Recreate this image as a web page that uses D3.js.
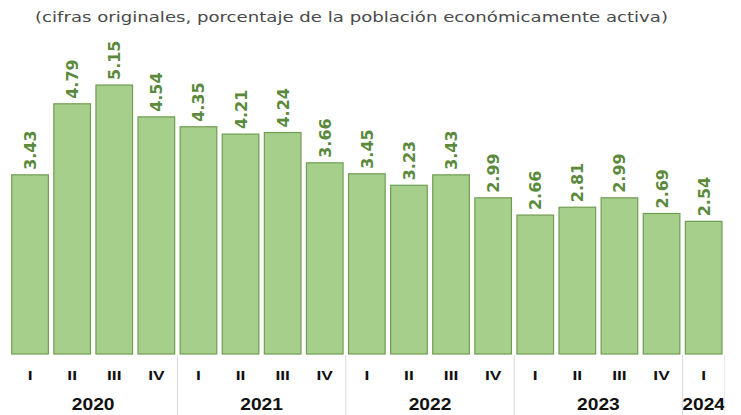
<!DOCTYPE html>
<html><head><meta charset="utf-8">
<script src="https://cdn.jsdelivr.net/npm/d3@7"></script>
<style>body{margin:0;background:#fff}</style>
</head><body>
<svg id="c" width="741" height="415"></svg>
<script>
const title = "(cifras originales, porcentaje de la población económicamente activa)";
const quarters = ["I","II","III","IV","I","II","III","IV","I","II","III","IV","I","II","III","IV","I"];
const years = ["2020","2020","2020","2020","2021","2021","2021","2021","2022","2022","2022","2022","2023","2023","2023","2023","2024"];
const values = [3.43,4.79,5.15,4.54,4.35,4.21,4.24,3.66,3.45,3.23,3.43,2.99,2.66,2.81,2.99,2.69,2.54];

const svg = d3.select("#c");
const ids = values.map((d,i)=>i);
const x = d3.scaleBand().domain(ids).range([9, 9+17*42.1]).paddingInner(0.13).paddingOuter(0.065);
const y = d3.scaleLinear().domain([0, 5.15]).range([354, 85]);

svg.append("text").attr("x", 351.5).attr("y", 22).attr("text-anchor","middle")
  .attr("font-family","'DejaVu Sans', sans-serif").attr("font-weight","normal").attr("font-size",14.5).attr("fill","#4a4a4a")
  .attr("textLength", 633).attr("lengthAdjust","spacingAndGlyphs").text(title);

svg.selectAll("rect.bar").data(values).join("rect").attr("class","bar")
  .attr("x",(d,i)=>x(i)).attr("width",x.bandwidth())
  .attr("y",d=>y(d)).attr("height",d=>y(0)-y(d))
  .attr("fill","#a6cf8b").attr("stroke","#6f9d52").attr("stroke-width",1.2);

svg.selectAll("text.val").data(values).join("text").attr("class","val")
  .attr("transform",(d,i)=>`translate(${x(i)+x.bandwidth()/2+6},${y(d)-5}) rotate(-90)`)
  .attr("font-family","'DejaVu Sans', sans-serif").attr("font-weight","bold").attr("font-size",16)
  .attr("fill","#5b8a3c").text(d=>d.toFixed(2));

svg.selectAll("text.q").data(quarters).join("text").attr("class","q")
  .attr("transform",(d,i)=>`translate(${x(i)+x.bandwidth()/2},380) scale(1.45,1)`)
  .attr("text-anchor","middle")
  .attr("font-family","'Liberation Sans', Arial, sans-serif").attr("font-weight","bold").attr("font-size",12)
  .attr("fill","#111").text(d=>d);

// year groups
const groups = d3.groups(ids, i=>years[i]);
const step = x.step();
groups.forEach(([yr, idx])=>{
  const x0 = x(idx[0]) - (step-x.bandwidth())/2;
  const x1 = x(idx[idx.length-1]) + x.bandwidth() + (step-x.bandwidth())/2;
  svg.append("text").attr("transform",`translate(${(x0+x1)/2},410) scale(1.2,1)`).attr("text-anchor","middle")
    .attr("font-family","'Liberation Sans', Arial, sans-serif").attr("font-weight","bold").attr("font-size",16)
    .attr("fill","#111").text(yr);
});
groups.slice(1).forEach(([yr, idx])=>{
  const xs = x(idx[0]) - (step-x.bandwidth())/2;
  svg.append("line").attr("x1",xs).attr("x2",xs).attr("y1",355).attr("y2",415)
    .attr("stroke","#d9d9d9").attr("stroke-width",1);
});
const lastX = x(16)+x.bandwidth()+(step-x.bandwidth())/2;
svg.append("line").attr("x1",lastX).attr("x2",lastX).attr("y1",355).attr("y2",415)
  .attr("stroke","#e6e6e6").attr("stroke-width",1);
</script>
</body></html>
